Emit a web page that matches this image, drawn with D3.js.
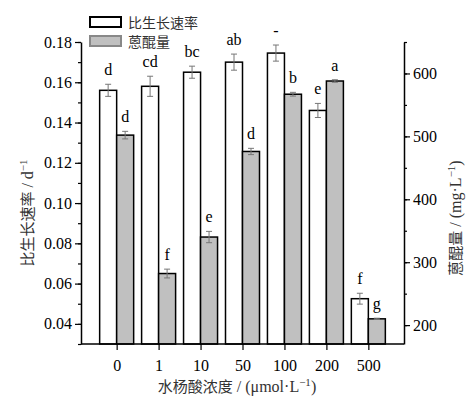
<!DOCTYPE html>
<html>
<head>
<meta charset="utf-8">
<script src="https://cdn.jsdelivr.net/npm/d3@7"></script>
<style>
  body { margin: 0; background: #fff; }
  svg { display: block; }
</style>
</head>
<body>
<div id="chart"></div>
<script>
// salicylic acid concentration (µmol/L)
const categories = ['0', '1', '10', '50', '100', '200', '500'];
// specific growth rate (d^-1)
const growthRate = [0.156, 0.158, 0.165, 0.170, 0.1745, 0.146, 0.0525];
const growthErr = [0.003, 0.005, 0.003, 0.004, 0.004, 0.0035, 0.0027];
const growthSig = ['d', 'cd', 'bc', 'ab', '-', 'e', 'f'];
// anthraquinone content (mg/L)
const anthra = [502, 282, 340, 476, 567, 588, 210];
const anthraErr = [6, 7, 9, 5, 3, 2, 1];
const anthraSig = ['d', 'f', 'e', 'd', 'b', 'a', 'g'];

const leftTicks = [0.04, 0.06, 0.08, 0.10, 0.12, 0.14, 0.16, 0.18];
const rightTicks = [200, 300, 400, 500, 600];

const W = 471, H = 397;
const plotL = 81, plotR = 404, plotT = 42, plotB = 344;
const serif = '"Liberation Serif", "Times New Roman", Times, serif';
const cjk = '"Noto Sans CJK SC", sans-serif';

const svg = d3.select('#chart').append('svg')
  .attr('width', W)
  .attr('height', H);

const x = d3.scalePoint().domain(categories).range([plotL, plotR]).padding(0.85);
const yL = d3.scaleLinear().domain([0.03, 0.18]).range([plotB, plotT]);
const yR = d3.scaleLinear().domain([170, 650]).range([plotB, plotT]);
const barW = 17;

const rows = categories.map((c, i) => ({
  c, g: growthRate[i], ge: growthErr[i], gs: growthSig[i],
  a: anthra[i], ae: anthraErr[i], as: anthraSig[i]
}));

// bars
svg.append('g').selectAll('rect')
  .data(rows)
  .join('rect')
  .attr('x', d => x(d.c) - barW)
  .attr('y', d => yL(d.g))
  .attr('width', barW)
  .attr('height', d => plotB - yL(d.g))
  .attr('fill', '#fff')
  .attr('stroke', '#000')
  .attr('stroke-width', 1.5);

svg.append('g').selectAll('rect')
  .data(rows)
  .join('rect')
  .attr('x', d => x(d.c))
  .attr('y', d => yR(d.a))
  .attr('width', barW)
  .attr('height', d => plotB - yR(d.a))
  .attr('fill', '#c0c0c0')
  .attr('stroke', '#000')
  .attr('stroke-width', 1.5);

// error bars
function errBars(data, cx, lo, hi) {
  const g = svg.append('g').attr('stroke', '#777').attr('stroke-width', 1);
  data.forEach(d => {
    const X = cx(d), y1 = lo(d), y2 = hi(d);
    g.append('line').attr('x1', X).attr('x2', X).attr('y1', y1).attr('y2', y2);
    g.append('line').attr('x1', X - 3).attr('x2', X + 3).attr('y1', y1).attr('y2', y1);
    g.append('line').attr('x1', X - 3).attr('x2', X + 3).attr('y1', y2).attr('y2', y2);
  });
}
errBars(rows, d => x(d.c) - barW / 2, d => yL(d.g - d.ge), d => yL(d.g + d.ge));
errBars(rows, d => x(d.c) + barW / 2, d => yR(d.a - d.ae), d => yR(d.a + d.ae));

// significance letters
svg.append('g').selectAll('text')
  .data(rows)
  .join('text')
  .attr('x', d => x(d.c) - barW / 2)
  .attr('y', d => yL(d.g + d.ge) - 9)
  .attr('text-anchor', 'middle')
  .style('font-family', serif)
  .style('font-size', '16px')
  .text(d => d.gs);

svg.append('g').selectAll('text')
  .data(rows)
  .join('text')
  .attr('x', d => x(d.c) + barW / 2)
  .attr('y', d => yR(d.a + d.ae) - 9)
  .attr('text-anchor', 'middle')
  .style('font-family', serif)
  .style('font-size', '16px')
  .text(d => d.as);

// axes
function styleAxis(g) {
  g.attr('font-family', null).attr('font-size', null);
  g.selectAll('path').attr('stroke', '#000').attr('stroke-width', 1.5);
  g.selectAll('line').attr('stroke', '#000').attr('stroke-width', 1.2);
  g.selectAll('text')
    .style('font-family', serif)
    .style('font-size', '16px')
    .attr('fill', '#000');
}

const gl = svg.append('g').attr('transform', `translate(${plotL},0)`);
gl.call(d3.axisLeft(yL).tickValues(d3.range(0.03, 0.1801, 0.01)).tickSize(3).tickFormat(''))
  .call(g => g.select('.domain').remove());
const glMain = gl.append('g').call(d3.axisLeft(yL).tickValues(leftTicks).tickSize(6).tickPadding(3)
  .tickSizeOuter(0).tickFormat(d3.format('.2f')));
styleAxis(gl);
styleAxis(glMain);

const gr = svg.append('g').attr('transform', `translate(${plotR},0)`);
gr.call(d3.axisRight(yR).tickValues(d3.range(200, 651, 50)).tickSize(3).tickFormat(''))
  .call(g => g.select('.domain').remove());
const grMain = gr.append('g').call(d3.axisRight(yR).tickValues(rightTicks).tickSize(6).tickPadding(3)
  .tickSizeOuter(0));
styleAxis(gr);
styleAxis(grMain);

const gb = svg.append('g').attr('transform', `translate(0,${plotB})`);
gb.call(d3.axisBottom(x).tickSize(6).tickPadding(10).tickSizeOuter(0));
gb.select('.domain').attr('d', `M${plotL},0H${plotR}`);
styleAxis(gb);

// legend
const legend = [
  { label: '比生长速率', fill: '#fff', stroke: '#000', y: 17 },
  { label: '蒽醌量', fill: '#c0c0c0', stroke: '#888', y: 36 }
];
legend.forEach(l => {
  svg.append('rect')
    .attr('x', 90).attr('y', l.y).attr('width', 31).attr('height', 10)
    .attr('fill', l.fill).attr('stroke', l.stroke).attr('stroke-width', 2);
  svg.append('text')
    .attr('x', 128).attr('y', l.y + 11)
    .style('font-family', cjk).style('font-size', '14px').attr('fill', '#333')
    .text(l.label);
});

// axis titles
function title(tx, ty, rot, cn, unitPre, sup, unitPost) {
  const t = svg.append('text')
    .attr('transform', `translate(${tx},${ty}) rotate(${rot})`)
    .attr('text-anchor', 'middle')
    .attr('fill', '#333');
  t.append('tspan').style('font-family', cjk).style('font-size', '15px').text(cn);
  t.append('tspan').style('font-family', serif).style('font-size', '16px').text(unitPre);
  t.append('tspan').style('font-family', serif).style('font-size', '11px').attr('dy', -6).text(sup);
  if (unitPost) t.append('tspan').style('font-family', serif).style('font-size', '16px').attr('dy', 6).text(unitPost);
}
title(33, 213, -90, '比生长速率', '  / d', '−1', '');
title(461, 218, -90, '蒽醌量', '  / (mg·L', '−1', ')');
title(237, 392, 0, '水杨酸浓度', '  / (μmol·L', '−1', ')');
</script>
</body>
</html>
